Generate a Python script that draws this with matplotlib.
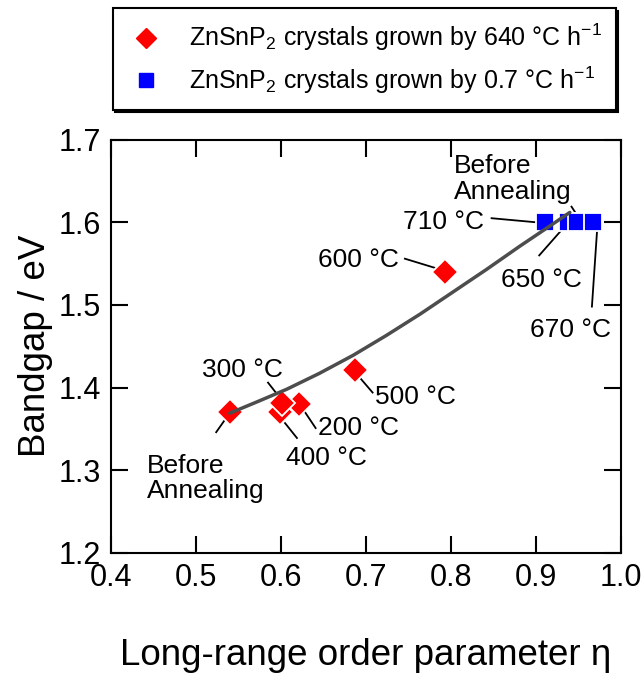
import numpy as np
import matplotlib
matplotlib.use('Agg')
import matplotlib.pyplot as plt
from matplotlib.lines import Line2D

plt.rcParams['font.family'] = ['Liberation Sans', 'DejaVu Sans']
plt.rcParams['mathtext.fontset'] = 'custom'
plt.rcParams['mathtext.rm'] = 'Liberation Sans'
plt.rcParams['mathtext.default'] = 'regular'

# data
# crystals grown by 640 C/h (red diamonds), drawn in this order
red_labels = ['Before annealing', '200 °C', '400 °C', '300 °C', '500 °C', '600 °C']
red_eta = [0.540, 0.622, 0.599, 0.602, 0.687, 0.793]
red_gap = [1.370, 1.380, 1.371, 1.381, 1.421, 1.540]

# crystals grown by 0.7 C/h (blue squares)
blue_labels = ['710 °C', '650 °C', 'Before annealing', '670 °C']
blue_eta = [0.911, 0.938, 0.948, 0.967]
blue_gap = [1.600, 1.600, 1.600, 1.600]

curve_eta = [0.540, 0.575, 0.607, 0.645, 0.685, 0.724, 0.764, 0.803,
             0.842, 0.881, 0.920, 0.940]
curve_gap = [1.369, 1.384, 1.398, 1.417, 1.439, 1.463, 1.489, 1.516,
             1.543, 1.571, 1.598, 1.612]

# annotations: text, text position, leader line start, leader line end
notes = [
    ('Before\nAnnealing', (0.442, 1.290), 'left', (0.524, 1.346), (0.537, 1.365)),
    ('300 °C', (0.555, 1.421), 'center', (0.585, 1.406), (0.601, 1.385)),
    ('400 °C', (0.654, 1.315), 'center', (0.605, 1.357), (0.619, 1.339)),
    ('200 °C', (0.692, 1.351), 'center', (0.628, 1.371), (0.641, 1.351)),
    ('500 °C', (0.758, 1.389), 'center', (0.693, 1.412), (0.708, 1.394)),
    ('600 °C', (0.691, 1.554), 'center', (0.746, 1.556), (0.781, 1.545)),
    ('710 °C', (0.792, 1.600), 'center', (0.848, 1.605), (0.901, 1.600)),
    ('650 °C', (0.907, 1.530), 'center', (0.904, 1.560), (0.934, 1.595)),
    ('670 °C', (0.941, 1.470), 'center', (0.966, 1.498), (0.972, 1.589)),
    ('Before\nAnnealing', (0.804, 1.653), 'left', (0.942, 1.619), (0.954, 1.600)),
]

fig = plt.figure(figsize=(6.44, 6.75), dpi=100)
ax = fig.add_axes([0.172, 0.181, 0.792, 0.612])

# leader lines and labels
for txt, pos, ha, p0, p1 in notes:
    ax.plot([p0[0], p1[0]], [p0[1], p1[1]], color='black', lw=1.3, zorder=2)
    ax.text(pos[0], pos[1], txt, ha=ha, va='center', fontsize=19, linespacing=1.1)

for e, g in zip(red_eta, red_gap):
    ax.plot(e, g, 'D', color='red', ms=13, mec='white', mew=1.3, zorder=3)
for e, g in zip(blue_eta, blue_gap):
    ax.plot(e, g, 's', color='blue', ms=13.5, mec='white', mew=1.3, zorder=3)

ax.plot(curve_eta, curve_gap, color='#4d4d4d', lw=2.5, zorder=4,
        solid_capstyle='round', solid_joinstyle='round')

ax.set_xlim(0.4, 1.0)
ax.set_ylim(1.2, 1.7)
ax.set_xticks(np.arange(0.4, 1.01, 0.1))
ax.set_yticks(np.arange(1.2, 1.71, 0.1))
ax.xaxis.set_major_formatter(matplotlib.ticker.FormatStrFormatter('%.1f'))
ax.yaxis.set_major_formatter(matplotlib.ticker.FormatStrFormatter('%.1f'))
ax.tick_params(direction='in', length=12, width=1.5, top=True, right=True,
               labelsize=22, pad=7)
for s in ax.spines.values():
    s.set_linewidth(1.5)

ax.set_xlabel('Long-range order parameter η', fontsize=26.5, labelpad=33)
ax.set_ylabel('Bandgap / eV', fontsize=26.5, labelpad=4)

handles = [
    Line2D([], [], ls='none', marker='D', color='red', ms=10),
    Line2D([], [], ls='none', marker='s', color='blue', ms=10),
]
names = ['ZnSnP$_2$ crystals grown by 640 °C h$^{-1}$',
         'ZnSnP$_2$ crystals grown by 0.7 °C h$^{-1}$']
leg = fig.legend(handles, names, loc='upper left', bbox_to_anchor=(0.175, 0.988),
                 fontsize=18, frameon=True, fancybox=False, edgecolor='black',
                 shadow={'color': 'black', 'alpha': 1}, handletextpad=0.9,
                 borderpad=0.55, labelspacing=0.45, handlelength=1.6, borderaxespad=0)
leg.get_frame().set_linewidth(1.5)

fig.savefig('out.png', dpi=100)
